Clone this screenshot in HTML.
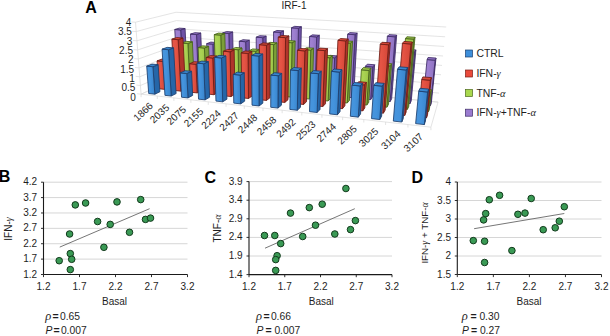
<!DOCTYPE html>
<html><head><meta charset="utf-8">
<style>
html,body{margin:0;padding:0;background:#fff;}
svg{display:block;}
text{font-family:"Liberation Sans",sans-serif;fill:#1e1e1e;}
.t{font-size:10px;}
.yl{font-size:10px;}
.xl{font-size:10px;}
.lbl{font-size:16px;font-weight:bold;fill:#000;}
.g{font-family:"Liberation Serif",serif;font-style:italic;}
.rho{font-size:12.5px;}
.eq{font-size:10.5px;font-weight:bold;}
.num{font-size:10.3px;}
.pi{font-style:italic;font-size:10.3px;}
</style></head>
<body>
<svg width="610" height="336" viewBox="0 0 610 336">
<rect width="610" height="336" fill="#fff"/>
<text x="85.3" y="12.5" class="lbl">A</text>
<text x="281.5" y="8.9" class="t">IRF-1</text>
<g class="c3">
<defs><linearGradient id="gf0" x1="0" y1="0" x2="1" y2="0"><stop offset="0" stop-color="#4895dd"/><stop offset="0.45" stop-color="#4493dc"/><stop offset="1" stop-color="#3884cb"/></linearGradient><linearGradient id="gf1" x1="0" y1="0" x2="1" y2="0"><stop offset="0" stop-color="#e55748"/><stop offset="0.45" stop-color="#e55444"/><stop offset="1" stop-color="#d44738"/></linearGradient><linearGradient id="gf2" x1="0" y1="0" x2="1" y2="0"><stop offset="0" stop-color="#acd456"/><stop offset="0.45" stop-color="#aad353"/><stop offset="1" stop-color="#9bc346"/></linearGradient><linearGradient id="gf3" x1="0" y1="0" x2="1" y2="0"><stop offset="0" stop-color="#a082d2"/><stop offset="0.45" stop-color="#9e80d1"/><stop offset="1" stop-color="#8f72c1"/></linearGradient></defs>
<line x1="179.41" y1="76.58" x2="438.05" y2="102.12" stroke="#d9d9d9" stroke-width="0.7"/>
<line x1="141.08" y1="94.18" x2="179.41" y2="76.58" stroke="#d9d9d9" stroke-width="0.7"/>
<line x1="179.00" y1="68.81" x2="439.02" y2="93.10" stroke="#d9d9d9" stroke-width="0.7"/>
<line x1="140.41" y1="85.52" x2="179.00" y2="68.81" stroke="#d9d9d9" stroke-width="0.7"/>
<line x1="178.58" y1="60.96" x2="440.01" y2="83.98" stroke="#d9d9d9" stroke-width="0.7"/>
<line x1="139.73" y1="76.77" x2="178.58" y2="60.96" stroke="#d9d9d9" stroke-width="0.7"/>
<line x1="178.16" y1="53.04" x2="441.01" y2="74.76" stroke="#d9d9d9" stroke-width="0.7"/>
<line x1="139.05" y1="67.93" x2="178.16" y2="53.04" stroke="#d9d9d9" stroke-width="0.7"/>
<line x1="177.74" y1="45.04" x2="442.02" y2="65.43" stroke="#d9d9d9" stroke-width="0.7"/>
<line x1="138.35" y1="58.99" x2="177.74" y2="45.04" stroke="#d9d9d9" stroke-width="0.7"/>
<line x1="177.31" y1="36.97" x2="443.04" y2="55.99" stroke="#d9d9d9" stroke-width="0.7"/>
<line x1="137.65" y1="49.95" x2="177.31" y2="36.97" stroke="#d9d9d9" stroke-width="0.7"/>
<line x1="176.88" y1="28.81" x2="444.07" y2="46.45" stroke="#d9d9d9" stroke-width="0.7"/>
<line x1="136.95" y1="40.81" x2="176.88" y2="28.81" stroke="#d9d9d9" stroke-width="0.7"/>
<line x1="176.44" y1="20.58" x2="445.12" y2="36.79" stroke="#d9d9d9" stroke-width="0.7"/>
<line x1="136.23" y1="31.57" x2="176.44" y2="20.58" stroke="#d9d9d9" stroke-width="0.7"/>
<line x1="176.00" y1="12.26" x2="446.18" y2="27.01" stroke="#d9d9d9" stroke-width="0.7"/>
<line x1="135.51" y1="22.23" x2="176.00" y2="12.26" stroke="#d9d9d9" stroke-width="0.7"/>
<line x1="141.08" y1="94.18" x2="135.51" y2="22.23" stroke="#d9d9d9" stroke-width="0.7"/>
<polygon points="141.08,94.18 430.91,127.18 438.05,102.12 179.41,76.58" fill="none" stroke="#d9d9d9" stroke-width="0.7" stroke-linejoin="round"/>
<line x1="141.08" y1="94.18" x2="141.08" y2="97.18" stroke="#d9d9d9" stroke-width="0.7"/>
<line x1="157.30" y1="96.02" x2="157.30" y2="99.02" stroke="#d9d9d9" stroke-width="0.7"/>
<line x1="173.89" y1="97.91" x2="173.89" y2="100.91" stroke="#d9d9d9" stroke-width="0.7"/>
<line x1="190.88" y1="99.85" x2="190.88" y2="102.85" stroke="#d9d9d9" stroke-width="0.7"/>
<line x1="208.27" y1="101.83" x2="208.27" y2="104.83" stroke="#d9d9d9" stroke-width="0.7"/>
<line x1="226.07" y1="103.85" x2="226.07" y2="106.85" stroke="#d9d9d9" stroke-width="0.7"/>
<line x1="244.31" y1="105.93" x2="244.31" y2="108.93" stroke="#d9d9d9" stroke-width="0.7"/>
<line x1="263.00" y1="108.06" x2="263.00" y2="111.06" stroke="#d9d9d9" stroke-width="0.7"/>
<line x1="282.16" y1="110.24" x2="282.16" y2="113.24" stroke="#d9d9d9" stroke-width="0.7"/>
<line x1="301.80" y1="112.48" x2="301.80" y2="115.48" stroke="#d9d9d9" stroke-width="0.7"/>
<line x1="321.94" y1="114.77" x2="321.94" y2="117.77" stroke="#d9d9d9" stroke-width="0.7"/>
<line x1="342.61" y1="117.12" x2="342.61" y2="120.12" stroke="#d9d9d9" stroke-width="0.7"/>
<line x1="363.81" y1="119.54" x2="363.81" y2="122.54" stroke="#d9d9d9" stroke-width="0.7"/>
<line x1="385.58" y1="122.02" x2="385.58" y2="125.02" stroke="#d9d9d9" stroke-width="0.7"/>
<line x1="407.94" y1="124.56" x2="407.94" y2="127.56" stroke="#d9d9d9" stroke-width="0.7"/>
<line x1="430.91" y1="127.18" x2="430.91" y2="130.18" stroke="#d9d9d9" stroke-width="0.7"/>
<line x1="141.08" y1="94.18" x2="137.08" y2="93.72" stroke="#d9d9d9" stroke-width="0.7"/>
<line x1="140.41" y1="85.52" x2="136.39" y2="85.09" stroke="#d9d9d9" stroke-width="0.7"/>
<line x1="139.73" y1="76.77" x2="135.69" y2="76.36" stroke="#d9d9d9" stroke-width="0.7"/>
<line x1="139.05" y1="67.93" x2="134.99" y2="67.54" stroke="#d9d9d9" stroke-width="0.7"/>
<line x1="138.35" y1="58.99" x2="134.28" y2="58.63" stroke="#d9d9d9" stroke-width="0.7"/>
<line x1="137.65" y1="49.95" x2="133.56" y2="49.61" stroke="#d9d9d9" stroke-width="0.7"/>
<line x1="136.95" y1="40.81" x2="132.83" y2="40.50" stroke="#d9d9d9" stroke-width="0.7"/>
<line x1="136.23" y1="31.57" x2="132.09" y2="31.28" stroke="#d9d9d9" stroke-width="0.7"/>
<line x1="135.51" y1="22.23" x2="131.35" y2="21.96" stroke="#d9d9d9" stroke-width="0.7"/>
<polygon points="183.23,80.62 187.49,78.58 185.09,28.52 180.65,29.88" fill="#6e52a6" stroke="#3d2c66" stroke-width="0.85" stroke-linejoin="round"/>
<polygon points="177.51,80.04 183.23,80.62 180.65,29.88 174.77,29.49" fill="url(#gf3)" stroke="#3d2c66" stroke-width="0.85" stroke-linejoin="round"/>
<polygon points="174.77,29.49 180.65,29.88 185.09,28.52 179.27,28.14" fill="#9274c5" stroke="#3d2c66" stroke-width="0.85" stroke-linejoin="round"/>
<polygon points="198.48,82.17 202.57,80.08 200.75,33.06 196.51,34.50" fill="#6e52a6" stroke="#3d2c66" stroke-width="0.85" stroke-linejoin="round"/>
<polygon points="192.65,81.57 198.48,82.17 196.51,34.50 190.51,34.09" fill="url(#gf3)" stroke="#3d2c66" stroke-width="0.85" stroke-linejoin="round"/>
<polygon points="190.51,34.09 196.51,34.50 200.75,33.06 194.82,32.66" fill="#9274c5" stroke="#3d2c66" stroke-width="0.85" stroke-linejoin="round"/>
<polygon points="174.32,84.88 178.84,82.72 177.08,49.91 172.45,51.62" fill="#7c9f38" stroke="#46621a" stroke-width="0.85" stroke-linejoin="round"/>
<polygon points="168.48,84.27 174.32,84.88 172.45,51.62 166.49,51.13" fill="url(#gf2)" stroke="#46621a" stroke-width="0.85" stroke-linejoin="round"/>
<polygon points="166.49,51.13 172.45,51.62 177.08,49.91 171.20,49.43" fill="#9ec748" stroke="#46621a" stroke-width="0.85" stroke-linejoin="round"/>
<polygon points="214.06,83.74 217.96,81.62 216.82,42.55 212.80,44.14" fill="#6e52a6" stroke="#3d2c66" stroke-width="0.85" stroke-linejoin="round"/>
<polygon points="208.10,83.14 214.06,83.74 212.80,44.14 206.70,43.68" fill="url(#gf3)" stroke="#3d2c66" stroke-width="0.85" stroke-linejoin="round"/>
<polygon points="206.70,43.68 212.80,44.14 216.82,42.55 210.80,42.10" fill="#9274c5" stroke="#3d2c66" stroke-width="0.85" stroke-linejoin="round"/>
<polygon points="189.93,86.52 194.27,84.31 192.40,41.82 187.92,43.44" fill="#7c9f38" stroke="#46621a" stroke-width="0.85" stroke-linejoin="round"/>
<polygon points="183.96,85.89 189.93,86.52 187.92,43.44 181.80,42.98" fill="url(#gf2)" stroke="#46621a" stroke-width="0.85" stroke-linejoin="round"/>
<polygon points="181.80,42.98 187.92,43.44 192.40,41.82 186.35,41.37" fill="#9ec748" stroke="#46621a" stroke-width="0.85" stroke-linejoin="round"/>
<polygon points="229.97,85.35 233.68,83.18 232.68,31.98 228.83,33.44" fill="#6e52a6" stroke="#3d2c66" stroke-width="0.85" stroke-linejoin="round"/>
<polygon points="223.88,84.74 229.97,85.35 228.83,33.44 222.55,33.02" fill="url(#gf3)" stroke="#3d2c66" stroke-width="0.85" stroke-linejoin="round"/>
<polygon points="222.55,33.02 228.83,33.44 232.68,31.98 226.49,31.57" fill="#9274c5" stroke="#3d2c66" stroke-width="0.85" stroke-linejoin="round"/>
<polygon points="164.88,89.40 169.67,87.10 168.04,59.56 163.13,61.46" fill="#b0352b" stroke="#6e1c15" stroke-width="0.85" stroke-linejoin="round"/>
<polygon points="158.89,88.75 164.88,89.40 163.13,61.46 157.05,60.92" fill="url(#gf1)" stroke="#6e1c15" stroke-width="0.85" stroke-linejoin="round"/>
<polygon points="157.05,60.92 163.13,61.46 168.04,59.56 162.03,59.03" fill="#d84939" stroke="#6e1c15" stroke-width="0.85" stroke-linejoin="round"/>
<polygon points="205.88,88.19 210.03,85.93 208.67,46.30 204.40,48.00" fill="#7c9f38" stroke="#46621a" stroke-width="0.85" stroke-linejoin="round"/>
<polygon points="199.78,87.55 205.88,88.19 204.40,48.00 198.16,47.51" fill="url(#gf2)" stroke="#46621a" stroke-width="0.85" stroke-linejoin="round"/>
<polygon points="198.16,47.51 204.40,48.00 208.67,46.30 202.50,45.83" fill="#9ec748" stroke="#46621a" stroke-width="0.85" stroke-linejoin="round"/>
<polygon points="246.22,87.00 249.74,84.78 249.31,40.14 245.68,41.73" fill="#6e52a6" stroke="#3d2c66" stroke-width="0.85" stroke-linejoin="round"/>
<polygon points="240.00,86.37 246.22,87.00 245.68,41.73 239.29,41.28" fill="url(#gf3)" stroke="#3d2c66" stroke-width="0.85" stroke-linejoin="round"/>
<polygon points="239.29,41.28 245.68,41.73 249.31,40.14 243.00,39.69" fill="#9274c5" stroke="#3d2c66" stroke-width="0.85" stroke-linejoin="round"/>
<polygon points="262.83,88.68 266.14,86.41 266.16,36.10 262.75,37.65" fill="#6e52a6" stroke="#3d2c66" stroke-width="0.85" stroke-linejoin="round"/>
<polygon points="256.47,88.04 262.83,88.68 262.75,37.65 256.20,37.21" fill="url(#gf3)" stroke="#3d2c66" stroke-width="0.85" stroke-linejoin="round"/>
<polygon points="256.20,37.21 262.75,37.65 266.16,36.10 259.70,35.66" fill="#9274c5" stroke="#3d2c66" stroke-width="0.85" stroke-linejoin="round"/>
<polygon points="180.86,91.13 185.47,88.79 182.95,38.04 178.16,39.65" fill="#b0352b" stroke="#6e1c15" stroke-width="0.85" stroke-linejoin="round"/>
<polygon points="174.74,90.47 180.86,91.13 178.16,39.65 171.86,39.19" fill="url(#gf1)" stroke="#6e1c15" stroke-width="0.85" stroke-linejoin="round"/>
<polygon points="171.86,39.19 178.16,39.65 182.95,38.04 176.73,37.59" fill="#d84939" stroke="#6e1c15" stroke-width="0.85" stroke-linejoin="round"/>
<polygon points="222.19,89.90 226.14,87.59 224.82,33.53 220.72,35.06" fill="#7c9f38" stroke="#46621a" stroke-width="0.85" stroke-linejoin="round"/>
<polygon points="215.95,89.24 222.19,89.90 220.72,35.06 214.28,34.62" fill="url(#gf2)" stroke="#46621a" stroke-width="0.85" stroke-linejoin="round"/>
<polygon points="214.28,34.62 220.72,35.06 224.82,33.53 218.46,33.10" fill="#9ec748" stroke="#46621a" stroke-width="0.85" stroke-linejoin="round"/>
<polygon points="154.84,94.20 159.93,91.76 158.16,64.66 152.95,66.71" fill="#2566a8" stroke="#1c3f6e" stroke-width="0.85" stroke-linejoin="round"/>
<polygon points="148.71,93.51 154.84,94.20 152.95,66.71 146.72,66.12" fill="url(#gf0)" stroke="#1c3f6e" stroke-width="0.85" stroke-linejoin="round"/>
<polygon points="146.72,66.12 152.95,66.71 158.16,64.66 152.01,64.10" fill="#3987d0" stroke="#1c3f6e" stroke-width="0.85" stroke-linejoin="round"/>
<polygon points="197.21,92.91 201.61,90.51 200.49,62.23 195.99,64.22" fill="#b0352b" stroke="#6e1c15" stroke-width="0.85" stroke-linejoin="round"/>
<polygon points="190.95,92.23 197.21,92.91 195.99,64.22 189.63,63.66" fill="url(#gf1)" stroke="#6e1c15" stroke-width="0.85" stroke-linejoin="round"/>
<polygon points="189.63,63.66 195.99,64.22 200.49,62.23 194.21,61.68" fill="#d84939" stroke="#6e1c15" stroke-width="0.85" stroke-linejoin="round"/>
<polygon points="279.80,90.40 282.89,88.08 283.52,30.87 280.33,32.37" fill="#6e52a6" stroke="#3d2c66" stroke-width="0.85" stroke-linejoin="round"/>
<polygon points="273.31,89.74 279.80,90.40 280.33,32.37 273.60,31.94" fill="url(#gf3)" stroke="#3d2c66" stroke-width="0.85" stroke-linejoin="round"/>
<polygon points="273.60,31.94 280.33,32.37 283.52,30.87 276.88,30.46" fill="#9274c5" stroke="#3d2c66" stroke-width="0.85" stroke-linejoin="round"/>
<polygon points="238.86,91.65 242.59,89.29 242.01,47.97 238.17,49.73" fill="#7c9f38" stroke="#46621a" stroke-width="0.85" stroke-linejoin="round"/>
<polygon points="232.48,90.98 238.86,91.65 238.17,49.73 231.63,49.23" fill="url(#gf2)" stroke="#46621a" stroke-width="0.85" stroke-linejoin="round"/>
<polygon points="231.63,49.23 238.17,49.73 242.01,47.97 235.56,47.48" fill="#9ec748" stroke="#46621a" stroke-width="0.85" stroke-linejoin="round"/>
<polygon points="297.16,92.16 300.02,89.79 301.38,26.76 298.43,28.21" fill="#6e52a6" stroke="#3d2c66" stroke-width="0.85" stroke-linejoin="round"/>
<polygon points="290.52,91.49 297.16,92.16 298.43,28.21 291.52,27.79" fill="url(#gf3)" stroke="#3d2c66" stroke-width="0.85" stroke-linejoin="round"/>
<polygon points="291.52,27.79 298.43,28.21 301.38,26.76 294.57,26.35" fill="#9274c5" stroke="#3d2c66" stroke-width="0.85" stroke-linejoin="round"/>
<polygon points="171.21,96.04 176.11,93.55 173.58,47.88 168.50,49.70" fill="#2566a8" stroke="#1c3f6e" stroke-width="0.85" stroke-linejoin="round"/>
<polygon points="164.95,95.34 171.21,96.04 168.50,49.70 162.06,49.18" fill="url(#gf0)" stroke="#1c3f6e" stroke-width="0.85" stroke-linejoin="round"/>
<polygon points="162.06,49.18 168.50,49.70 173.58,47.88 167.22,47.37" fill="#3987d0" stroke="#1c3f6e" stroke-width="0.85" stroke-linejoin="round"/>
<polygon points="255.90,93.43 259.42,91.02 259.26,49.45 255.65,51.26" fill="#7c9f38" stroke="#46621a" stroke-width="0.85" stroke-linejoin="round"/>
<polygon points="249.38,92.75 255.90,93.43 255.65,51.26 248.96,50.74" fill="url(#gf2)" stroke="#46621a" stroke-width="0.85" stroke-linejoin="round"/>
<polygon points="248.96,50.74 255.65,51.26 259.26,49.45 252.66,48.95" fill="#9ec748" stroke="#46621a" stroke-width="0.85" stroke-linejoin="round"/>
<polygon points="213.92,94.73 218.12,92.28 217.06,56.09 212.75,58.01" fill="#b0352b" stroke="#6e1c15" stroke-width="0.85" stroke-linejoin="round"/>
<polygon points="207.53,94.03 213.92,94.73 212.75,58.01 206.21,57.46" fill="url(#gf1)" stroke="#6e1c15" stroke-width="0.85" stroke-linejoin="round"/>
<polygon points="206.21,57.46 212.75,58.01 217.06,56.09 210.60,55.55" fill="#d84939" stroke="#6e1c15" stroke-width="0.85" stroke-linejoin="round"/>
<polygon points="314.91,93.96 317.53,91.53 319.35,35.31 316.67,36.91" fill="#6e52a6" stroke="#3d2c66" stroke-width="0.85" stroke-linejoin="round"/>
<polygon points="308.12,93.27 314.91,93.96 316.67,36.91 309.63,36.45" fill="url(#gf3)" stroke="#3d2c66" stroke-width="0.85" stroke-linejoin="round"/>
<polygon points="309.63,36.45 316.67,36.91 319.35,35.31 312.41,34.86" fill="#9274c5" stroke="#3d2c66" stroke-width="0.85" stroke-linejoin="round"/>
<polygon points="333.06,95.79 335.43,93.31 337.06,55.88 334.67,57.81" fill="#6e52a6" stroke="#3d2c66" stroke-width="0.85" stroke-linejoin="round"/>
<polygon points="326.11,95.09 333.06,95.79 334.67,57.81 327.55,57.26" fill="url(#gf3)" stroke="#3d2c66" stroke-width="0.85" stroke-linejoin="round"/>
<polygon points="327.55,57.26 334.67,57.81 337.06,55.88 330.05,55.34" fill="#9274c5" stroke="#3d2c66" stroke-width="0.85" stroke-linejoin="round"/>
<polygon points="187.97,97.94 192.66,95.38 191.57,71.29 186.79,73.49" fill="#2566a8" stroke="#1c3f6e" stroke-width="0.85" stroke-linejoin="round"/>
<polygon points="181.56,97.21 187.97,97.94 186.79,73.49 180.29,72.87" fill="url(#gf0)" stroke="#1c3f6e" stroke-width="0.85" stroke-linejoin="round"/>
<polygon points="180.29,72.87 186.79,73.49 191.57,71.29 185.15,70.69" fill="#3987d0" stroke="#1c3f6e" stroke-width="0.85" stroke-linejoin="round"/>
<polygon points="273.33,95.26 276.62,92.79 276.97,42.85 273.58,44.58" fill="#7c9f38" stroke="#46621a" stroke-width="0.85" stroke-linejoin="round"/>
<polygon points="266.66,94.56 273.33,95.26 273.58,44.58 266.70,44.09" fill="url(#gf2)" stroke="#46621a" stroke-width="0.85" stroke-linejoin="round"/>
<polygon points="266.70,44.09 273.58,44.58 276.97,42.85 270.18,42.37" fill="#9ec748" stroke="#46621a" stroke-width="0.85" stroke-linejoin="round"/>
<polygon points="231.03,96.59 235.00,94.08 234.17,49.92 230.07,51.78" fill="#b0352b" stroke="#6e1c15" stroke-width="0.85" stroke-linejoin="round"/>
<polygon points="224.48,95.87 231.03,96.59 230.07,51.78 223.35,51.25" fill="url(#gf1)" stroke="#6e1c15" stroke-width="0.85" stroke-linejoin="round"/>
<polygon points="223.35,51.25 230.07,51.78 234.17,49.92 227.54,49.41" fill="#d84939" stroke="#6e1c15" stroke-width="0.85" stroke-linejoin="round"/>
<polygon points="370.64,99.60 372.46,97.00 374.62,64.78 372.79,66.91" fill="#6e52a6" stroke="#3d2c66" stroke-width="0.85" stroke-linejoin="round"/>
<polygon points="363.37,98.86 370.64,99.60 372.79,66.91 365.36,66.30" fill="url(#gf3)" stroke="#3d2c66" stroke-width="0.85" stroke-linejoin="round"/>
<polygon points="365.36,66.30 372.79,66.91 374.62,64.78 367.30,64.20" fill="#9274c5" stroke="#3d2c66" stroke-width="0.85" stroke-linejoin="round"/>
<polygon points="351.63,97.68 353.74,95.14 357.16,33.07 355.03,34.68" fill="#6e52a6" stroke="#3d2c66" stroke-width="0.85" stroke-linejoin="round"/>
<polygon points="344.52,96.96 351.63,97.68 355.03,34.68 347.63,34.22" fill="url(#gf3)" stroke="#3d2c66" stroke-width="0.85" stroke-linejoin="round"/>
<polygon points="347.63,34.22 355.03,34.68 357.16,33.07 349.87,32.62" fill="#9274c5" stroke="#3d2c66" stroke-width="0.85" stroke-linejoin="round"/>
<polygon points="291.16,97.13 294.21,94.61 295.17,41.01 292.04,42.74" fill="#7c9f38" stroke="#46621a" stroke-width="0.85" stroke-linejoin="round"/>
<polygon points="284.34,96.41 291.16,97.13 292.04,42.74 284.98,42.25" fill="url(#gf2)" stroke="#46621a" stroke-width="0.85" stroke-linejoin="round"/>
<polygon points="284.98,42.25 292.04,42.74 295.17,41.01 288.22,40.53" fill="#9ec748" stroke="#46621a" stroke-width="0.85" stroke-linejoin="round"/>
<polygon points="205.12,99.87 209.59,97.26 208.36,61.65 203.76,63.73" fill="#2566a8" stroke="#1c3f6e" stroke-width="0.85" stroke-linejoin="round"/>
<polygon points="198.56,99.13 205.12,99.87 203.76,63.73 197.06,63.14" fill="url(#gf0)" stroke="#1c3f6e" stroke-width="0.85" stroke-linejoin="round"/>
<polygon points="197.06,63.14 203.76,63.73 208.36,61.65 201.74,61.08" fill="#3987d0" stroke="#1c3f6e" stroke-width="0.85" stroke-linejoin="round"/>
<polygon points="248.52,98.49 252.27,95.92 251.91,51.48 248.05,53.39" fill="#b0352b" stroke="#6e1c15" stroke-width="0.85" stroke-linejoin="round"/>
<polygon points="241.83,97.76 248.52,98.49 248.05,53.39 241.17,52.84" fill="url(#gf1)" stroke="#6e1c15" stroke-width="0.85" stroke-linejoin="round"/>
<polygon points="241.17,52.84 248.05,53.39 251.91,51.48 245.12,50.96" fill="#d84939" stroke="#6e1c15" stroke-width="0.85" stroke-linejoin="round"/>
<polygon points="390.10,101.57 391.63,98.91 396.67,35.11 395.16,36.79" fill="#6e52a6" stroke="#3d2c66" stroke-width="0.85" stroke-linejoin="round"/>
<polygon points="382.65,100.82 390.10,101.57 395.16,36.79 387.39,36.31" fill="url(#gf3)" stroke="#3d2c66" stroke-width="0.85" stroke-linejoin="round"/>
<polygon points="387.39,36.31 395.16,36.79 396.67,35.11 389.02,34.64" fill="#9274c5" stroke="#3d2c66" stroke-width="0.85" stroke-linejoin="round"/>
<polygon points="309.41,99.04 312.20,96.46 313.62,48.23 310.76,50.09" fill="#7c9f38" stroke="#46621a" stroke-width="0.85" stroke-linejoin="round"/>
<polygon points="302.43,98.31 309.41,99.04 310.76,50.09 303.56,49.56" fill="url(#gf2)" stroke="#46621a" stroke-width="0.85" stroke-linejoin="round"/>
<polygon points="303.56,49.56 310.76,50.09 313.62,48.23 306.52,47.71" fill="#9ec748" stroke="#46621a" stroke-width="0.85" stroke-linejoin="round"/>
<polygon points="410.02,103.59 411.25,100.86 415.90,49.94 414.71,51.88" fill="#6e52a6" stroke="#3d2c66" stroke-width="0.85" stroke-linejoin="round"/>
<polygon points="402.40,102.82 410.02,103.59 414.71,51.88 406.82,51.33" fill="url(#gf3)" stroke="#3d2c66" stroke-width="0.85" stroke-linejoin="round"/>
<polygon points="406.82,51.33 414.71,51.88 415.90,49.94 408.13,49.40" fill="#9274c5" stroke="#3d2c66" stroke-width="0.85" stroke-linejoin="round"/>
<polygon points="430.43,105.66 431.33,102.86 435.99,58.07 435.14,60.17" fill="#6e52a6" stroke="#3d2c66" stroke-width="0.85" stroke-linejoin="round"/>
<polygon points="422.62,104.86 430.43,105.66 435.14,60.17 427.09,59.57" fill="url(#gf3)" stroke="#3d2c66" stroke-width="0.85" stroke-linejoin="round"/>
<polygon points="427.09,59.57 435.14,60.17 435.99,58.07 428.07,57.49" fill="#9274c5" stroke="#3d2c66" stroke-width="0.85" stroke-linejoin="round"/>
<polygon points="328.09,101.00 330.62,98.36 332.36,55.74 329.79,57.75" fill="#7c9f38" stroke="#46621a" stroke-width="0.85" stroke-linejoin="round"/>
<polygon points="320.94,100.25 328.09,101.00 329.79,57.75 322.44,57.17" fill="url(#gf2)" stroke="#46621a" stroke-width="0.85" stroke-linejoin="round"/>
<polygon points="322.44,57.17 329.79,57.75 332.36,55.74 325.11,55.19" fill="#9ec748" stroke="#46621a" stroke-width="0.85" stroke-linejoin="round"/>
<polygon points="266.44,100.43 269.94,97.81 270.10,43.38 266.48,45.18" fill="#b0352b" stroke="#6e1c15" stroke-width="0.85" stroke-linejoin="round"/>
<polygon points="259.58,99.69 266.44,100.43 266.48,45.18 259.38,44.67" fill="url(#gf1)" stroke="#6e1c15" stroke-width="0.85" stroke-linejoin="round"/>
<polygon points="259.38,44.67 266.48,45.18 270.10,43.38 263.11,42.88" fill="#d84939" stroke="#6e1c15" stroke-width="0.85" stroke-linejoin="round"/>
<polygon points="222.68,101.85 226.92,99.18 225.88,55.94 221.51,57.96" fill="#2566a8" stroke="#1c3f6e" stroke-width="0.85" stroke-linejoin="round"/>
<polygon points="215.96,101.09 222.68,101.85 221.51,57.96 214.61,57.39" fill="url(#gf0)" stroke="#1c3f6e" stroke-width="0.85" stroke-linejoin="round"/>
<polygon points="214.61,57.39 221.51,57.96 225.88,55.94 219.08,55.39" fill="#3987d0" stroke="#1c3f6e" stroke-width="0.85" stroke-linejoin="round"/>
<polygon points="347.22,103.01 349.46,100.30 352.57,41.33 350.29,43.13" fill="#7c9f38" stroke="#46621a" stroke-width="0.85" stroke-linejoin="round"/>
<polygon points="339.90,102.24 347.22,103.01 350.29,43.13 342.69,42.61" fill="url(#gf2)" stroke="#46621a" stroke-width="0.85" stroke-linejoin="round"/>
<polygon points="342.69,42.61 350.29,43.13 352.57,41.33 345.08,40.83" fill="#9ec748" stroke="#46621a" stroke-width="0.85" stroke-linejoin="round"/>
<polygon points="366.81,105.06 368.76,102.29 370.97,68.16 369.02,70.41" fill="#7c9f38" stroke="#46621a" stroke-width="0.85" stroke-linejoin="round"/>
<polygon points="359.31,104.27 366.81,105.06 369.02,70.41 361.34,69.77" fill="url(#gf2)" stroke="#46621a" stroke-width="0.85" stroke-linejoin="round"/>
<polygon points="361.34,69.77 369.02,70.41 370.97,68.16 363.42,67.54" fill="#9ec748" stroke="#46621a" stroke-width="0.85" stroke-linejoin="round"/>
<polygon points="240.66,103.88 244.66,101.14 244.29,72.76 240.22,75.07" fill="#2566a8" stroke="#1c3f6e" stroke-width="0.85" stroke-linejoin="round"/>
<polygon points="233.78,103.10 240.66,103.88 240.22,75.07 233.21,74.41" fill="url(#gf0)" stroke="#1c3f6e" stroke-width="0.85" stroke-linejoin="round"/>
<polygon points="233.21,74.41 240.22,75.07 244.29,72.76 237.38,72.12" fill="#3987d0" stroke="#1c3f6e" stroke-width="0.85" stroke-linejoin="round"/>
<polygon points="284.77,102.43 288.02,99.73 288.93,35.94 285.57,37.65" fill="#b0352b" stroke="#6e1c15" stroke-width="0.85" stroke-linejoin="round"/>
<polygon points="277.75,101.66 284.77,102.43 285.57,37.65 278.26,37.16" fill="url(#gf1)" stroke="#6e1c15" stroke-width="0.85" stroke-linejoin="round"/>
<polygon points="278.26,37.16 285.57,37.65 288.93,35.94 281.73,35.47" fill="#d84939" stroke="#6e1c15" stroke-width="0.85" stroke-linejoin="round"/>
<polygon points="386.88,107.16 388.52,104.32 391.65,63.74 390.03,65.95" fill="#7c9f38" stroke="#46621a" stroke-width="0.85" stroke-linejoin="round"/>
<polygon points="379.19,106.36 386.88,107.16 390.03,65.95 382.13,65.32" fill="url(#gf2)" stroke="#46621a" stroke-width="0.85" stroke-linejoin="round"/>
<polygon points="382.13,65.32 390.03,65.95 391.65,63.74 383.88,63.13" fill="#9ec748" stroke="#46621a" stroke-width="0.85" stroke-linejoin="round"/>
<polygon points="428.53,111.53 429.49,108.54 431.43,89.77 430.49,92.46" fill="#7c9f38" stroke="#46621a" stroke-width="0.85" stroke-linejoin="round"/>
<polygon points="420.45,110.68 428.53,111.53 430.49,92.46 422.31,91.70" fill="url(#gf2)" stroke="#46621a" stroke-width="0.85" stroke-linejoin="round"/>
<polygon points="422.31,91.70 430.49,92.46 431.43,89.77 423.39,89.03" fill="#9ec748" stroke="#46621a" stroke-width="0.85" stroke-linejoin="round"/>
<polygon points="303.55,104.47 306.53,101.71 307.89,48.96 304.84,50.90" fill="#b0352b" stroke="#6e1c15" stroke-width="0.85" stroke-linejoin="round"/>
<polygon points="296.36,103.69 303.55,104.47 304.84,50.90 297.40,50.34" fill="url(#gf1)" stroke="#6e1c15" stroke-width="0.85" stroke-linejoin="round"/>
<polygon points="297.40,50.34 304.84,50.90 307.89,48.96 300.57,48.42" fill="#d84939" stroke="#6e1c15" stroke-width="0.85" stroke-linejoin="round"/>
<polygon points="407.44,109.32 408.75,106.41 414.98,37.28 413.72,39.09" fill="#7c9f38" stroke="#46621a" stroke-width="0.85" stroke-linejoin="round"/>
<polygon points="399.57,108.49 407.44,109.32 413.72,39.09 405.47,38.57" fill="url(#gf2)" stroke="#46621a" stroke-width="0.85" stroke-linejoin="round"/>
<polygon points="405.47,38.57 413.72,39.09 414.98,37.28 406.87,36.78" fill="#9ec748" stroke="#46621a" stroke-width="0.85" stroke-linejoin="round"/>
<polygon points="259.08,105.96 262.82,103.15 262.74,53.99 258.88,56.03" fill="#2566a8" stroke="#1c3f6e" stroke-width="0.85" stroke-linejoin="round"/>
<polygon points="252.03,105.16 259.08,105.96 258.88,56.03 251.61,55.45" fill="url(#gf0)" stroke="#1c3f6e" stroke-width="0.85" stroke-linejoin="round"/>
<polygon points="251.61,55.45 258.88,56.03 262.74,53.99 255.58,53.42" fill="#3987d0" stroke="#1c3f6e" stroke-width="0.85" stroke-linejoin="round"/>
<polygon points="322.79,106.56 325.49,103.73 327.57,48.65 324.81,50.61" fill="#b0352b" stroke="#6e1c15" stroke-width="0.85" stroke-linejoin="round"/>
<polygon points="315.43,105.76 322.79,106.56 324.81,50.61 317.18,50.05" fill="url(#gf1)" stroke="#6e1c15" stroke-width="0.85" stroke-linejoin="round"/>
<polygon points="317.18,50.05 324.81,50.61 327.57,48.65 320.05,48.11" fill="#d84939" stroke="#6e1c15" stroke-width="0.85" stroke-linejoin="round"/>
<polygon points="277.95,108.08 281.42,105.21 281.74,73.36 278.21,75.74" fill="#2566a8" stroke="#1c3f6e" stroke-width="0.85" stroke-linejoin="round"/>
<polygon points="270.72,107.27 277.95,108.08 278.21,75.74 270.83,75.06" fill="url(#gf0)" stroke="#1c3f6e" stroke-width="0.85" stroke-linejoin="round"/>
<polygon points="270.83,75.06 278.21,75.74 281.74,73.36 274.48,72.70" fill="#3987d0" stroke="#1c3f6e" stroke-width="0.85" stroke-linejoin="round"/>
<polygon points="362.71,110.90 364.80,107.93 366.40,82.36 364.31,84.92" fill="#b0352b" stroke="#6e1c15" stroke-width="0.85" stroke-linejoin="round"/>
<polygon points="354.98,110.06 362.71,110.90 364.31,84.92 356.44,84.19" fill="url(#gf1)" stroke="#6e1c15" stroke-width="0.85" stroke-linejoin="round"/>
<polygon points="356.44,84.19 364.31,84.92 366.40,82.36 358.65,81.65" fill="#d84939" stroke="#6e1c15" stroke-width="0.85" stroke-linejoin="round"/>
<polygon points="342.51,108.70 344.90,105.81 348.24,39.05 345.80,40.88" fill="#b0352b" stroke="#6e1c15" stroke-width="0.85" stroke-linejoin="round"/>
<polygon points="334.96,107.88 342.51,108.70 345.80,40.88 337.92,40.36" fill="url(#gf1)" stroke="#6e1c15" stroke-width="0.85" stroke-linejoin="round"/>
<polygon points="337.92,40.36 345.80,40.88 348.24,39.05 340.48,38.54" fill="#d84939" stroke="#6e1c15" stroke-width="0.85" stroke-linejoin="round"/>
<polygon points="297.29,110.27 300.48,107.32 301.34,68.17 298.09,70.50" fill="#2566a8" stroke="#1c3f6e" stroke-width="0.85" stroke-linejoin="round"/>
<polygon points="289.89,109.43 297.29,110.27 298.09,70.50 290.50,69.83" fill="url(#gf0)" stroke="#1c3f6e" stroke-width="0.85" stroke-linejoin="round"/>
<polygon points="290.50,69.83 298.09,70.50 301.34,68.17 293.86,67.52" fill="#3987d0" stroke="#1c3f6e" stroke-width="0.85" stroke-linejoin="round"/>
<polygon points="383.43,113.15 385.18,110.10 390.26,42.82 388.53,44.76" fill="#b0352b" stroke="#6e1c15" stroke-width="0.85" stroke-linejoin="round"/>
<polygon points="375.50,112.29 383.43,113.15 388.53,44.76 380.23,44.21" fill="url(#gf1)" stroke="#6e1c15" stroke-width="0.85" stroke-linejoin="round"/>
<polygon points="380.23,44.21 388.53,44.76 390.26,42.82 382.10,42.28" fill="#d84939" stroke="#6e1c15" stroke-width="0.85" stroke-linejoin="round"/>
<polygon points="426.49,117.83 427.52,114.62 431.31,77.61 430.32,80.21" fill="#b0352b" stroke="#6e1c15" stroke-width="0.85" stroke-linejoin="round"/>
<polygon points="418.13,116.92 426.49,117.83 430.32,80.21 421.75,79.47" fill="url(#gf1)" stroke="#6e1c15" stroke-width="0.85" stroke-linejoin="round"/>
<polygon points="421.75,79.47 430.32,80.21 431.31,77.61 422.89,76.90" fill="#d84939" stroke="#6e1c15" stroke-width="0.85" stroke-linejoin="round"/>
<polygon points="317.12,112.50 320.01,109.48 321.32,71.26 318.39,73.67" fill="#2566a8" stroke="#1c3f6e" stroke-width="0.85" stroke-linejoin="round"/>
<polygon points="309.53,111.65 317.12,112.50 318.39,73.67 310.61,72.98" fill="url(#gf0)" stroke="#1c3f6e" stroke-width="0.85" stroke-linejoin="round"/>
<polygon points="310.61,72.98 318.39,73.67 321.32,71.26 313.66,70.59" fill="#3987d0" stroke="#1c3f6e" stroke-width="0.85" stroke-linejoin="round"/>
<polygon points="404.68,115.46 406.09,112.33 412.33,41.99 410.98,43.95" fill="#b0352b" stroke="#6e1c15" stroke-width="0.85" stroke-linejoin="round"/>
<polygon points="396.54,114.57 404.68,115.46 410.98,43.95 402.44,43.39" fill="url(#gf1)" stroke="#6e1c15" stroke-width="0.85" stroke-linejoin="round"/>
<polygon points="402.44,43.39 410.98,43.95 412.33,41.99 403.94,41.45" fill="#d84939" stroke="#6e1c15" stroke-width="0.85" stroke-linejoin="round"/>
<polygon points="337.46,114.80 340.03,111.70 342.01,69.66 339.41,72.08" fill="#2566a8" stroke="#1c3f6e" stroke-width="0.85" stroke-linejoin="round"/>
<polygon points="329.67,113.92 337.46,114.80 339.41,72.08 331.40,71.39" fill="url(#gf0)" stroke="#1c3f6e" stroke-width="0.85" stroke-linejoin="round"/>
<polygon points="331.40,71.39 339.41,72.08 342.01,69.66 334.13,68.99" fill="#3987d0" stroke="#1c3f6e" stroke-width="0.85" stroke-linejoin="round"/>
<polygon points="358.32,117.15 360.56,113.97 362.41,83.23 360.16,85.91" fill="#2566a8" stroke="#1c3f6e" stroke-width="0.85" stroke-linejoin="round"/>
<polygon points="350.33,116.25 358.32,117.15 360.16,85.91 352.00,85.15" fill="url(#gf0)" stroke="#1c3f6e" stroke-width="0.85" stroke-linejoin="round"/>
<polygon points="352.00,85.15 360.16,85.91 362.41,83.23 354.38,82.49" fill="#3987d0" stroke="#1c3f6e" stroke-width="0.85" stroke-linejoin="round"/>
<polygon points="379.74,119.56 381.62,116.30 384.04,83.39 382.16,86.12" fill="#2566a8" stroke="#1c3f6e" stroke-width="0.85" stroke-linejoin="round"/>
<polygon points="371.53,118.64 379.74,119.56 382.16,86.12 373.77,85.35" fill="url(#gf0)" stroke="#1c3f6e" stroke-width="0.85" stroke-linejoin="round"/>
<polygon points="373.77,85.35 382.16,86.12 384.04,83.39 375.79,82.65" fill="#3987d0" stroke="#1c3f6e" stroke-width="0.85" stroke-linejoin="round"/>
<polygon points="424.29,124.59 425.41,121.15 428.66,89.10 427.58,92.01" fill="#2566a8" stroke="#1c3f6e" stroke-width="0.85" stroke-linejoin="round"/>
<polygon points="415.64,123.62 424.29,124.59 427.58,92.01 418.74,91.18" fill="url(#gf0)" stroke="#1c3f6e" stroke-width="0.85" stroke-linejoin="round"/>
<polygon points="418.74,91.18 427.58,92.01 428.66,89.10 419.98,88.31" fill="#3987d0" stroke="#1c3f6e" stroke-width="0.85" stroke-linejoin="round"/>
<polygon points="401.72,122.04 403.23,118.69 407.70,67.49 406.22,69.99" fill="#2566a8" stroke="#1c3f6e" stroke-width="0.85" stroke-linejoin="round"/>
<polygon points="393.30,121.09 401.72,122.04 406.22,69.99 397.50,69.27" fill="url(#gf0)" stroke="#1c3f6e" stroke-width="0.85" stroke-linejoin="round"/>
<polygon points="397.50,69.27 406.22,69.99 407.70,67.49 399.13,66.81" fill="#3987d0" stroke="#1c3f6e" stroke-width="0.85" stroke-linejoin="round"/>
<text x="135.9" y="100.5" text-anchor="end" class="yl">0</text>
<text x="135.3" y="91.2" text-anchor="end" class="yl">0.5</text>
<text x="134.7" y="81.8" text-anchor="end" class="yl">1</text>
<text x="134.1" y="72.5" text-anchor="end" class="yl">1.5</text>
<text x="133.6" y="63.2" text-anchor="end" class="yl">2</text>
<text x="133.0" y="53.8" text-anchor="end" class="yl">2.5</text>
<text x="132.4" y="44.5" text-anchor="end" class="yl">3</text>
<text x="131.8" y="35.1" text-anchor="end" class="yl">3.5</text>
<text x="131.2" y="25.8" text-anchor="end" class="yl">4</text>
<text transform="translate(153.6,106.6) rotate(-43)" text-anchor="end" class="xl">1866</text>
<text transform="translate(170.0,108.5) rotate(-43)" text-anchor="end" class="xl">2035</text>
<text transform="translate(186.8,110.4) rotate(-43)" text-anchor="end" class="xl">2075</text>
<text transform="translate(204.0,112.3) rotate(-43)" text-anchor="end" class="xl">2155</text>
<text transform="translate(221.6,114.3) rotate(-43)" text-anchor="end" class="xl">2224</text>
<text transform="translate(239.6,116.4) rotate(-43)" text-anchor="end" class="xl">2427</text>
<text transform="translate(258.1,118.5) rotate(-43)" text-anchor="end" class="xl">2448</text>
<text transform="translate(277.0,120.6) rotate(-43)" text-anchor="end" class="xl">2458</text>
<text transform="translate(296.4,122.9) rotate(-43)" text-anchor="end" class="xl">2492</text>
<text transform="translate(316.3,125.1) rotate(-43)" text-anchor="end" class="xl">2523</text>
<text transform="translate(336.7,127.4) rotate(-43)" text-anchor="end" class="xl">2744</text>
<text transform="translate(357.6,129.8) rotate(-43)" text-anchor="end" class="xl">2805</text>
<text transform="translate(379.1,132.3) rotate(-43)" text-anchor="end" class="xl">3025</text>
<text transform="translate(401.2,134.8) rotate(-43)" text-anchor="end" class="xl">3104</text>
<text transform="translate(423.8,137.4) rotate(-43)" text-anchor="end" class="xl">3107</text>
</g>
<g class="t" style="font-size:10.4px">
<rect x="465.5" y="50" width="7" height="7" fill="#3d8fdb" stroke="#1c3f6e" stroke-width="0.7"/>
<text x="476.4" y="57">CTRL</text>
<rect x="465.5" y="70" width="7" height="7" fill="#ea4a3b" stroke="#7a1d16" stroke-width="0.7"/>
<text x="476.4" y="77">IFN-<tspan class="g">γ</tspan></text>
<rect x="465.5" y="89.5" width="7" height="7" fill="#a9d84e" stroke="#4c6a1c" stroke-width="0.7"/>
<text x="476.4" y="96.5">TNF-<tspan class="g">α</tspan></text>
<rect x="465.5" y="109.2" width="7" height="7" fill="#9a7bd0" stroke="#3d2c66" stroke-width="0.7"/>
<text x="476.4" y="116.2">IFN-<tspan class="g">γ</tspan>+TNF-<tspan class="g">α</tspan></text>
</g>
<text x="-1.2" y="182.2" class="lbl">B</text>
<text x="204.5" y="183" class="lbl">C</text>
<text x="411.5" y="183" class="lbl">D</text>
<line x1="43.50" y1="182.20" x2="187.50" y2="182.20" stroke="#d6d6d6" stroke-width="1"/>
<line x1="43.50" y1="197.58" x2="187.50" y2="197.58" stroke="#d6d6d6" stroke-width="1"/>
<line x1="43.50" y1="212.97" x2="187.50" y2="212.97" stroke="#d6d6d6" stroke-width="1"/>
<line x1="43.50" y1="228.35" x2="187.50" y2="228.35" stroke="#d6d6d6" stroke-width="1"/>
<line x1="43.50" y1="243.73" x2="187.50" y2="243.73" stroke="#d6d6d6" stroke-width="1"/>
<line x1="43.50" y1="259.12" x2="187.50" y2="259.12" stroke="#d6d6d6" stroke-width="1"/>
<line x1="41.00" y1="182.20" x2="43.50" y2="182.20" stroke="#1a1a1a" stroke-width="0.9"/>
<text x="37.20" y="185.20" text-anchor="end" class="t">4.2</text>
<line x1="41.00" y1="197.58" x2="43.50" y2="197.58" stroke="#1a1a1a" stroke-width="0.9"/>
<text x="37.20" y="200.58" text-anchor="end" class="t">3.7</text>
<line x1="41.00" y1="212.97" x2="43.50" y2="212.97" stroke="#1a1a1a" stroke-width="0.9"/>
<text x="37.20" y="215.97" text-anchor="end" class="t">3.2</text>
<line x1="41.00" y1="228.35" x2="43.50" y2="228.35" stroke="#1a1a1a" stroke-width="0.9"/>
<text x="37.20" y="231.35" text-anchor="end" class="t">2.7</text>
<line x1="41.00" y1="243.73" x2="43.50" y2="243.73" stroke="#1a1a1a" stroke-width="0.9"/>
<text x="37.20" y="246.73" text-anchor="end" class="t">2.2</text>
<line x1="41.00" y1="259.12" x2="43.50" y2="259.12" stroke="#1a1a1a" stroke-width="0.9"/>
<text x="37.20" y="262.12" text-anchor="end" class="t">1.7</text>
<line x1="41.00" y1="274.50" x2="43.50" y2="274.50" stroke="#1a1a1a" stroke-width="0.9"/>
<text x="37.20" y="277.50" text-anchor="end" class="t">1.2</text>
<line x1="43.50" y1="274.50" x2="43.50" y2="277.10" stroke="#1a1a1a" stroke-width="0.9"/>
<text x="43.50" y="290.10" text-anchor="middle" class="t">1.2</text>
<line x1="79.50" y1="274.50" x2="79.50" y2="277.10" stroke="#1a1a1a" stroke-width="0.9"/>
<text x="79.50" y="290.10" text-anchor="middle" class="t">1.7</text>
<line x1="115.50" y1="274.50" x2="115.50" y2="277.10" stroke="#1a1a1a" stroke-width="0.9"/>
<text x="115.50" y="290.10" text-anchor="middle" class="t">2.2</text>
<line x1="151.50" y1="274.50" x2="151.50" y2="277.10" stroke="#1a1a1a" stroke-width="0.9"/>
<text x="151.50" y="290.10" text-anchor="middle" class="t">2.7</text>
<line x1="187.50" y1="274.50" x2="187.50" y2="277.10" stroke="#1a1a1a" stroke-width="0.9"/>
<text x="187.50" y="290.10" text-anchor="middle" class="t">3.2</text>
<line x1="43.50" y1="182.20" x2="43.50" y2="274.50" stroke="#1a1a1a" stroke-width="1.1"/>
<line x1="43.50" y1="274.50" x2="187.50" y2="274.50" stroke="#1a1a1a" stroke-width="1.2"/>
<line x1="59.75" y1="247.1" x2="149.6" y2="208.7" stroke="#666" stroke-width="0.9"/>
<circle cx="75.3" cy="204.9" r="3.3" fill="#3a9a55" stroke="#123a1c" stroke-width="1"/>
<circle cx="85.6" cy="203.0" r="3.3" fill="#3a9a55" stroke="#123a1c" stroke-width="1"/>
<circle cx="97.6" cy="221.5" r="3.3" fill="#3a9a55" stroke="#123a1c" stroke-width="1"/>
<circle cx="110.2" cy="224.4" r="3.3" fill="#3a9a55" stroke="#123a1c" stroke-width="1"/>
<circle cx="117.0" cy="201.9" r="3.3" fill="#3a9a55" stroke="#123a1c" stroke-width="1"/>
<circle cx="140.7" cy="199.6" r="3.3" fill="#3a9a55" stroke="#123a1c" stroke-width="1"/>
<circle cx="145.5" cy="219.4" r="3.3" fill="#3a9a55" stroke="#123a1c" stroke-width="1"/>
<circle cx="150.5" cy="218.1" r="3.3" fill="#3a9a55" stroke="#123a1c" stroke-width="1"/>
<circle cx="129.5" cy="232.3" r="3.3" fill="#3a9a55" stroke="#123a1c" stroke-width="1"/>
<circle cx="69.6" cy="234.0" r="3.3" fill="#3a9a55" stroke="#123a1c" stroke-width="1"/>
<circle cx="70.3" cy="253.6" r="3.3" fill="#3a9a55" stroke="#123a1c" stroke-width="1"/>
<circle cx="71.7" cy="259.3" r="3.3" fill="#3a9a55" stroke="#123a1c" stroke-width="1"/>
<circle cx="59.2" cy="260.7" r="3.3" fill="#3a9a55" stroke="#123a1c" stroke-width="1"/>
<circle cx="70.3" cy="269.6" r="3.3" fill="#3a9a55" stroke="#123a1c" stroke-width="1"/>
<circle cx="103.9" cy="247.3" r="3.3" fill="#3a9a55" stroke="#123a1c" stroke-width="1"/>
<line x1="249.00" y1="181.60" x2="392.00" y2="181.60" stroke="#d6d6d6" stroke-width="1"/>
<line x1="249.00" y1="200.20" x2="392.00" y2="200.20" stroke="#d6d6d6" stroke-width="1"/>
<line x1="249.00" y1="218.80" x2="392.00" y2="218.80" stroke="#d6d6d6" stroke-width="1"/>
<line x1="249.00" y1="237.40" x2="392.00" y2="237.40" stroke="#d6d6d6" stroke-width="1"/>
<line x1="249.00" y1="256.00" x2="392.00" y2="256.00" stroke="#d6d6d6" stroke-width="1"/>
<line x1="246.50" y1="181.60" x2="249.00" y2="181.60" stroke="#1a1a1a" stroke-width="0.9"/>
<text x="242.70" y="184.60" text-anchor="end" class="t">3.9</text>
<line x1="246.50" y1="200.20" x2="249.00" y2="200.20" stroke="#1a1a1a" stroke-width="0.9"/>
<text x="242.70" y="203.20" text-anchor="end" class="t">3.4</text>
<line x1="246.50" y1="218.80" x2="249.00" y2="218.80" stroke="#1a1a1a" stroke-width="0.9"/>
<text x="242.70" y="221.80" text-anchor="end" class="t">2.9</text>
<line x1="246.50" y1="237.40" x2="249.00" y2="237.40" stroke="#1a1a1a" stroke-width="0.9"/>
<text x="242.70" y="240.40" text-anchor="end" class="t">2.4</text>
<line x1="246.50" y1="256.00" x2="249.00" y2="256.00" stroke="#1a1a1a" stroke-width="0.9"/>
<text x="242.70" y="259.00" text-anchor="end" class="t">1.9</text>
<line x1="246.50" y1="274.60" x2="249.00" y2="274.60" stroke="#1a1a1a" stroke-width="0.9"/>
<text x="242.70" y="277.60" text-anchor="end" class="t">1.4</text>
<line x1="249.00" y1="274.60" x2="249.00" y2="277.20" stroke="#1a1a1a" stroke-width="0.9"/>
<text x="249.00" y="290.20" text-anchor="middle" class="t">1.2</text>
<line x1="284.75" y1="274.60" x2="284.75" y2="277.20" stroke="#1a1a1a" stroke-width="0.9"/>
<text x="284.75" y="290.20" text-anchor="middle" class="t">1.7</text>
<line x1="320.50" y1="274.60" x2="320.50" y2="277.20" stroke="#1a1a1a" stroke-width="0.9"/>
<text x="320.50" y="290.20" text-anchor="middle" class="t">2.2</text>
<line x1="356.25" y1="274.60" x2="356.25" y2="277.20" stroke="#1a1a1a" stroke-width="0.9"/>
<text x="356.25" y="290.20" text-anchor="middle" class="t">2.7</text>
<line x1="392.00" y1="274.60" x2="392.00" y2="277.20" stroke="#1a1a1a" stroke-width="0.9"/>
<text x="392.00" y="290.20" text-anchor="middle" class="t">3.2</text>
<line x1="249.00" y1="181.60" x2="249.00" y2="274.60" stroke="#1a1a1a" stroke-width="1.1"/>
<line x1="249.00" y1="274.60" x2="392.00" y2="274.60" stroke="#1a1a1a" stroke-width="1.2"/>
<line x1="265" y1="248.2" x2="354.8" y2="208.7" stroke="#666" stroke-width="0.9"/>
<circle cx="264.5" cy="235.5" r="3.3" fill="#3a9a55" stroke="#123a1c" stroke-width="1"/>
<circle cx="274.8" cy="235.5" r="3.3" fill="#3a9a55" stroke="#123a1c" stroke-width="1"/>
<circle cx="280.7" cy="243.6" r="3.3" fill="#3a9a55" stroke="#123a1c" stroke-width="1"/>
<circle cx="302.7" cy="236.5" r="3.3" fill="#3a9a55" stroke="#123a1c" stroke-width="1"/>
<circle cx="315.5" cy="225.2" r="3.3" fill="#3a9a55" stroke="#123a1c" stroke-width="1"/>
<circle cx="290.5" cy="213.1" r="3.3" fill="#3a9a55" stroke="#123a1c" stroke-width="1"/>
<circle cx="309.3" cy="207.6" r="3.3" fill="#3a9a55" stroke="#123a1c" stroke-width="1"/>
<circle cx="322.2" cy="204.2" r="3.3" fill="#3a9a55" stroke="#123a1c" stroke-width="1"/>
<circle cx="345.9" cy="188.5" r="3.3" fill="#3a9a55" stroke="#123a1c" stroke-width="1"/>
<circle cx="355.4" cy="220.6" r="3.3" fill="#3a9a55" stroke="#123a1c" stroke-width="1"/>
<circle cx="350.5" cy="229.6" r="3.3" fill="#3a9a55" stroke="#123a1c" stroke-width="1"/>
<circle cx="334.8" cy="234.0" r="3.3" fill="#3a9a55" stroke="#123a1c" stroke-width="1"/>
<circle cx="277.1" cy="255.7" r="3.3" fill="#3a9a55" stroke="#123a1c" stroke-width="1"/>
<circle cx="275.7" cy="259.6" r="3.3" fill="#3a9a55" stroke="#123a1c" stroke-width="1"/>
<circle cx="275.7" cy="270.4" r="3.3" fill="#3a9a55" stroke="#123a1c" stroke-width="1"/>
<line x1="457.30" y1="182.00" x2="601.50" y2="182.00" stroke="#d6d6d6" stroke-width="1"/>
<line x1="457.30" y1="200.50" x2="601.50" y2="200.50" stroke="#d6d6d6" stroke-width="1"/>
<line x1="457.30" y1="219.00" x2="601.50" y2="219.00" stroke="#d6d6d6" stroke-width="1"/>
<line x1="457.30" y1="237.50" x2="601.50" y2="237.50" stroke="#d6d6d6" stroke-width="1"/>
<line x1="457.30" y1="256.00" x2="601.50" y2="256.00" stroke="#d6d6d6" stroke-width="1"/>
<line x1="454.80" y1="182.00" x2="457.30" y2="182.00" stroke="#1a1a1a" stroke-width="0.9"/>
<text x="451.00" y="185.00" text-anchor="end" class="t">4</text>
<line x1="454.80" y1="200.50" x2="457.30" y2="200.50" stroke="#1a1a1a" stroke-width="0.9"/>
<text x="451.00" y="203.50" text-anchor="end" class="t">3.5</text>
<line x1="454.80" y1="219.00" x2="457.30" y2="219.00" stroke="#1a1a1a" stroke-width="0.9"/>
<text x="451.00" y="222.00" text-anchor="end" class="t">3</text>
<line x1="454.80" y1="237.50" x2="457.30" y2="237.50" stroke="#1a1a1a" stroke-width="0.9"/>
<text x="451.00" y="240.50" text-anchor="end" class="t">2.5</text>
<line x1="454.80" y1="256.00" x2="457.30" y2="256.00" stroke="#1a1a1a" stroke-width="0.9"/>
<text x="451.00" y="259.00" text-anchor="end" class="t">2</text>
<line x1="454.80" y1="274.50" x2="457.30" y2="274.50" stroke="#1a1a1a" stroke-width="0.9"/>
<text x="451.00" y="277.50" text-anchor="end" class="t">1.5</text>
<line x1="457.30" y1="274.50" x2="457.30" y2="277.10" stroke="#1a1a1a" stroke-width="0.9"/>
<text x="457.30" y="290.10" text-anchor="middle" class="t">1.2</text>
<line x1="493.35" y1="274.50" x2="493.35" y2="277.10" stroke="#1a1a1a" stroke-width="0.9"/>
<text x="493.35" y="290.10" text-anchor="middle" class="t">1.7</text>
<line x1="529.40" y1="274.50" x2="529.40" y2="277.10" stroke="#1a1a1a" stroke-width="0.9"/>
<text x="529.40" y="290.10" text-anchor="middle" class="t">2.2</text>
<line x1="565.45" y1="274.50" x2="565.45" y2="277.10" stroke="#1a1a1a" stroke-width="0.9"/>
<text x="565.45" y="290.10" text-anchor="middle" class="t">2.7</text>
<line x1="601.50" y1="274.50" x2="601.50" y2="277.10" stroke="#1a1a1a" stroke-width="0.9"/>
<text x="601.50" y="290.10" text-anchor="middle" class="t">3.2</text>
<line x1="457.30" y1="182.00" x2="457.30" y2="274.50" stroke="#1a1a1a" stroke-width="1.1"/>
<line x1="457.30" y1="274.50" x2="601.50" y2="274.50" stroke="#1a1a1a" stroke-width="1.2"/>
<line x1="474.1" y1="228.7" x2="564.3" y2="213.5" stroke="#666" stroke-width="0.9"/>
<circle cx="489.3" cy="199.75" r="3.3" fill="#3a9a55" stroke="#123a1c" stroke-width="1"/>
<circle cx="499.6" cy="195.3" r="3.3" fill="#3a9a55" stroke="#123a1c" stroke-width="1"/>
<circle cx="531.2" cy="198.5" r="3.3" fill="#3a9a55" stroke="#123a1c" stroke-width="1"/>
<circle cx="485.7" cy="213.6" r="3.3" fill="#3a9a55" stroke="#123a1c" stroke-width="1"/>
<circle cx="483.6" cy="219.9" r="3.3" fill="#3a9a55" stroke="#123a1c" stroke-width="1"/>
<circle cx="517.9" cy="214.3" r="3.3" fill="#3a9a55" stroke="#123a1c" stroke-width="1"/>
<circle cx="525.0" cy="213.1" r="3.3" fill="#3a9a55" stroke="#123a1c" stroke-width="1"/>
<circle cx="543.2" cy="229.7" r="3.3" fill="#3a9a55" stroke="#123a1c" stroke-width="1"/>
<circle cx="473.3" cy="240.6" r="3.3" fill="#3a9a55" stroke="#123a1c" stroke-width="1"/>
<circle cx="484.6" cy="241.25" r="3.3" fill="#3a9a55" stroke="#123a1c" stroke-width="1"/>
<circle cx="511.9" cy="250.6" r="3.3" fill="#3a9a55" stroke="#123a1c" stroke-width="1"/>
<circle cx="484.6" cy="262.5" r="3.3" fill="#3a9a55" stroke="#123a1c" stroke-width="1"/>
<circle cx="564.3" cy="206.7" r="3.3" fill="#3a9a55" stroke="#123a1c" stroke-width="1"/>
<circle cx="559.3" cy="221.2" r="3.3" fill="#3a9a55" stroke="#123a1c" stroke-width="1"/>
<circle cx="555.2" cy="227.8" r="3.3" fill="#3a9a55" stroke="#123a1c" stroke-width="1"/>
<g class="t">
<text transform="translate(11.9,229) rotate(-90)" text-anchor="middle">IFN-<tspan class="g">γ</tspan></text>
<text transform="translate(220.8,228.5) rotate(-90)" text-anchor="middle">TNF-<tspan class="g">α</tspan></text>
<text transform="translate(427.9,233) rotate(-90)" text-anchor="middle" style="font-size:9.75px">IFN-<tspan class="g">γ</tspan> + TNF-<tspan class="g">α</tspan></text>
<text x="114.6" y="305" text-anchor="middle">Basal</text>
<text x="321.3" y="304.5" text-anchor="middle">Basal</text>
<text x="529" y="305" text-anchor="middle">Basal</text>
<text x="45.2" y="319.7" class="g rho">ρ</text><text x="52.4" y="319.7" class="eq">=</text><text x="60" y="319.7" class="num">0.65</text>
<text x="45.6" y="333.5" class="pi">P</text><text x="53.6" y="333.5" class="eq">=</text><text x="60.9" y="333.5" class="num">0.007</text>
<text x="255.9" y="319.7" class="g rho">ρ</text><text x="263.6" y="319.7" class="eq">=</text><text x="270.9" y="319.7" class="num">0.66</text>
<text x="256.4" y="333.5" class="pi">P</text><text x="265.5" y="333.5" class="eq">=</text><text x="274.4" y="333.5" class="num">0.007</text>
<text x="461.7" y="319.7" class="g rho">ρ</text><text x="470.5" y="319.7" class="eq">=</text><text x="479.4" y="319.7" class="num">0.30</text>
<text x="462.1" y="333.5" class="pi">P</text><text x="471" y="333.5" class="eq">=</text><text x="479.9" y="333.5" class="num">0.27</text>
</g>
</svg>
</body></html>
